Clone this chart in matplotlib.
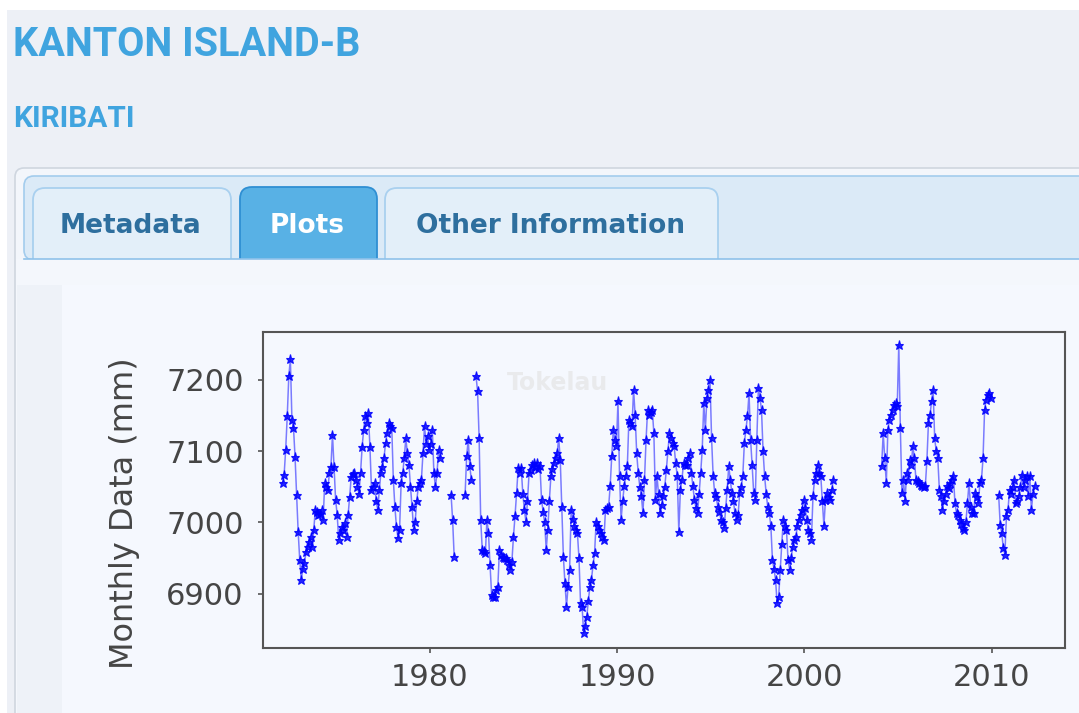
import numpy as np
import matplotlib.pyplot as plt
from matplotlib.patches import FancyBboxPatch, Rectangle

nan = np.nan

# monthly sea level (mm), one list per continuous stretch of record
seg1_start = (1972, 2)
seg1 = [7055, 7067, 7102, 7149, 7205, 7229, 7144, 7133, 7092, 7039, 6987,
        6948, 6920, 6935, 6943, 6958, 6966, 6972, 6980, 6966, 6990, 7018, 7014,
        7010, 7012, 7018, 7003, 7055, 7050, 7046, 7069, 7078, 7123, 7078, 7032,
        7011, 6976, 6985, 6994, 6990, 6999, 6980, 7010, 7036, 7064, 7068, 7069,
        7060, 7050, 7040, 7070, 7106, 7130, 7149, 7140, 7153, 7106, 7046, 7050,
        7055, 7030, 7018, 7045, 7069, 7078, 7090, 7111, 7125, 7139, 7135, 7133,
        7060, 7022, 6994, 6978, 6990, 7055, 7069, 7090, 7118, 7097, 7081, 7050,
        7022, 6990, 7001, 7030, 7050, 7055, 7060, 7097, 7135, 7110, 7121, 7102,
        7110, 7130, 7069, 7050, 7069, 7102, 7090]

seg2_start = (1981, 2)
seg2 = [7039, 7004, 6952]

seg3_start = (1981, 11)
seg3 = [7039, 7093,
        7116, 7079, 7060, nan, nan, 7205, 7184, 7118, 7004, 6962, 6960, 6957,
        7004, 6985, 6940, 6899, 6895, 6896, 6905, 6910, 6962, 6955, 6952, 6950,
        6950, 6948, 6940, 6934, 6945, 6980, 7009, 7041, 7076, 7070, 7076, 7040,
        7018, 7001, 7030, 7069, 7074, 7080, 7083, 7078, 7083, 7075, 7079, 7032,
        7015, 7000, 6962, 6990, 7030, 7065, 7075, 7083, 7090, 7097, 7118, 7088,
        7022, 6952, 6915, 6882, 6910, 6934, 7018, 7005, 6995, 6990, 6985, 6950,
        6887, 6882, 6845, 6855, 6868, 6890, 6910, 6920, 6940, 6957, 7001, 6995,
        6990, 6985, 6980, 6976, 7018, 7020, 7022, 7051, 7093, 7130, 7115, 7107,
        7170, 7065, 7004, 7030, 7051, 7065, 7079, 7144, 7140, 7135, 7186, 7150,
        7097, 7069, 7050, 7037, 7013, 7060, 7116, 7158, 7150, 7155, 7158, 7125,
        7032, 7065, 7040, 7013, 7025, 7037, 7050, 7074, 7100, 7125, 7118, 7112,
        7107, 7083, 7065, 6987, 7046, 7060, 7083, 7081, 7081, 7090, 7097, 7070,
        7051, 7032, 7020, 7013, 7040, 7069, 7102, 7167, 7130, 7174, 7185, 7200,
        7118, 7065, 7041, 7035, 7022, 7015, 7004, 7000, 6992, 7020, 7046, 7079,
        7060, 7041, 7030, 7013, 7004, 7010, 7041, 7050, 7065, 7111, 7130, 7149,
        7181, 7116, 7080, 7041, 7032, 7116, 7188, 7175, 7158, 7100, 7065, 7040,
        7022, 7013, 6995, 6948, 6935, 6920, 6887, 6896, 6934, 6970, 7004, 6995,
        6990, 6948, 6934, 6950, 6966, 6975, 6980, 6995, 7004, 7010, 7018, 7032,
        7020, 7004, 6990, 6985, 6976, 7037, 7060, 7069, 7081, 7070, 7065, 7030,
        6995, 7032, 7041, 7035, 7032, 7045, 7060]

seg4_start = (2004, 2)
seg4 = [7079, 7125, 7090, 7055, 7130, 7144, 7150, 7158, 7165, 7167, 7163,
        7249, 7132, 7041, 7060, 7030, 7069, 7060, 7088, 7080, 7107, 7090, 7060,
        7058, 7055, 7052, 7051, 7050, 7051, 7086, 7139, 7150, 7170, 7186, 7118,
        7100, 7090, 7046, 7037, 7018, 7030, 7040, 7051, 7048, 7055, 7060, 7065,
        7027, 7013, 7010, 7004, 6998, 6992, 6990, 7000, 7027, 7055, 7022, 7013,
        7013, 7041, 7035, 7027, 7055, 7060, 7090, 7158, 7172, 7178, 7181, 7174]

seg5_start = (2010, 5)
seg5 = [7039, 6997, 6985, 6964, 6955, 7009, 7018, 7046,
        7040, 7050, 7060, 7027, 7030, 7037, 7050, 7067, 7050, 7060, 7065, 7037,
        7065, 7018, 7040, 7051]

segments = [(seg1_start, seg1), (seg2_start, seg2), (seg3_start, seg3),
            (seg4_start, seg4), (seg5_start, seg5)]

x_ticks = [1980, 1990, 2000, 2010]
y_ticks = [6900, 7000, 7100, 7200]

tab_names = ["Metadata", "Plots", "Other Information"]

W, H = 1079, 713
fig = plt.figure(figsize=(W / 100, H / 100), dpi=100)
fig.patch.set_facecolor('#edf0f6')

# page drawn in pixel coordinates
bg = fig.add_axes([0, 0, 1, 1])
bg.set_xlim(0, W)
bg.set_ylim(H, 0)
bg.axis('off')

bg.add_patch(Rectangle((0, 0), W, 10, facecolor='white', edgecolor='none'))
bg.add_patch(Rectangle((0, 0), 7, H, facecolor='white', edgecolor='none'))

bg.text(13, 56, "KANTON ISLAND-B", family='Roboto', weight='bold', fontsize=28.5,
        color='#40a4df', va='baseline', ha='left')
bg.text(13, 127, "KIRIBATI", family='Roboto', weight='bold', fontsize=21.5,
        color='#40a4df', va='baseline', ha='left')

# tab panel
bg.add_patch(FancyBboxPatch((15, 168), 1100, 600, boxstyle="round,pad=0,rounding_size=9",
                            facecolor='#f3f6fb', edgecolor='#cfd6df', lw=1.2))
bg.add_patch(FancyBboxPatch((24, 176), 1100, 84, boxstyle="round,pad=0,rounding_size=10",
                            facecolor='#dbeaf7', edgecolor='#a3cced', lw=1.2))

tab_box = [(33, 231), (240, 377), (385, 718)]
for i, name in enumerate(tab_names):
    x0, x1 = tab_box[i]
    sel = name == "Plots"
    bg.add_patch(FancyBboxPatch((x0, 187 if sel else 188), x1 - x0, 90,
                                boxstyle="round,pad=0,rounding_size=12",
                                facecolor='#58b1e5' if sel else '#e3eff9',
                                edgecolor='#2f8fd3' if sel else '#a9d0ef', lw=1.3))
    bg.text((x0 + x1) / 2 - 1, 233, name, family='DejaVu Sans', weight='bold',
            fontsize=19, color='white' if sel else '#2e6f9e', ha='center', va='baseline')

# content area below the tabs
bg.add_patch(Rectangle((16, 259), W, H, facecolor='#f4f7fc', edgecolor='none'))
bg.plot([24, W], [259, 259], color='#8fc2ea', lw=1.2)
bg.add_patch(Rectangle((17, 285), 45, H, facecolor='#eef2f8', edgecolor='none'))
bg.add_patch(Rectangle((62, 285), W, H, facecolor='#f5f8fe', edgecolor='none'))

# chart
ax = fig.add_axes([263 / W, 1 - 648 / H, 802 / W, 316 / H])
ax.set_facecolor('#f5f8fe')
for (yr, mo), vals in segments:
    vals = np.array(vals, dtype=float)
    t = yr + (mo - 1 + np.arange(len(vals)) + 0.5) / 12
    ax.plot(t, vals, color='blue', lw=1.1, alpha=0.5)
    ax.plot(t, vals, ls='none', marker='*', ms=6.5, color='blue', alpha=0.85, mew=0.8)

ax.set_xlim(1971.08, 2013.92)
ax.set_ylim(6824, 7267)
ax.set_xticks(x_ticks)
ax.set_yticks(y_ticks)
ax.tick_params(direction='out', length=3.8, width=1.2, color='#555555',
               labelsize=22, labelcolor='#454545')
ax.tick_params(axis='y', pad=10)
ax.tick_params(axis='x', pad=7)
for s in ax.spines.values():
    s.set_color('#555555')
    s.set_linewidth(1.5)

ax.text(0.367, 0.839, "Tokelau", transform=ax.transAxes, fontsize=17, weight='bold',
        color='#e9eaec', ha='center', va='center', zorder=1)

fig.text(125 / W, 1 - 513 / H, "Monthly Data (mm)", rotation=90, fontsize=23,
         color='#454545', ha='center', va='center')

fig.savefig('out.png', dpi=100, facecolor=fig.get_facecolor())
